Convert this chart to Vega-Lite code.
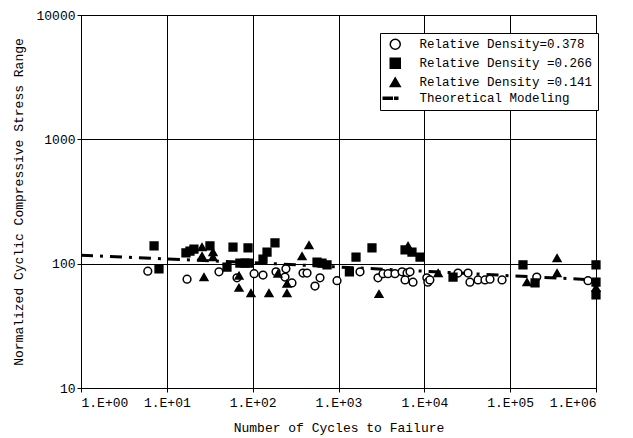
{
  "$schema": "https://vega.github.io/schema/vega-lite/v6.json",
  "width": 515,
  "height": 373,
  "autosize": {"type": "none"},
  "padding": {"left": 81, "top": 15, "right": 37, "bottom": 50},
  "background": "white",
  "config": {
    "view": {"stroke": "black", "strokeWidth": 1},
    "axis": {
      "domainColor": "black",
      "tickColor": "black",
      "gridColor": "black",
      "gridOpacity": 1,
      "gridWidth": 1,
      "labelColor": "black",
      "titleColor": "black",
      "labelFont": "Liberation Mono",
      "titleFont": "Liberation Mono",
      "labelFontSize": 13,
      "titleFontSize": 13,
      "titleFontWeight": "normal",
      "tickSize": 4
    },
    "legend": {
      "labelFont": "Liberation Mono",
      "labelFontSize": 12.5,
      "labelColor": "black",
      "labelLimit": 400
    }
  },
  "datasets": {
    "tests": [
      {"cycles": 6.0, "stress": 87, "series": "Relative Density=0.378"},
      {"cycles": 17.2, "stress": 75, "series": "Relative Density=0.378"},
      {"cycles": 40.5, "stress": 86, "series": "Relative Density=0.378"},
      {"cycles": 65.7, "stress": 77, "series": "Relative Density=0.378"},
      {"cycles": 104, "stress": 83, "series": "Relative Density=0.378"},
      {"cycles": 132, "stress": 81, "series": "Relative Density=0.378"},
      {"cycles": 187, "stress": 86, "series": "Relative Density=0.378"},
      {"cycles": 244, "stress": 91, "series": "Relative Density=0.378"},
      {"cycles": 238, "stress": 78, "series": "Relative Density=0.378"},
      {"cycles": 287, "stress": 70, "series": "Relative Density=0.378"},
      {"cycles": 386, "stress": 84, "series": "Relative Density=0.378"},
      {"cycles": 430, "stress": 84, "series": "Relative Density=0.378"},
      {"cycles": 609, "stress": 77, "series": "Relative Density=0.378"},
      {"cycles": 532, "stress": 66, "series": "Relative Density=0.378"},
      {"cycles": 961, "stress": 73, "series": "Relative Density=0.378"},
      {"cycles": 1780, "stress": 86, "series": "Relative Density=0.378"},
      {"cycles": 2885, "stress": 77, "series": "Relative Density=0.378"},
      {"cycles": 3300, "stress": 83, "series": "Relative Density=0.378"},
      {"cycles": 3775, "stress": 83, "series": "Relative Density=0.378"},
      {"cycles": 4550, "stress": 83, "series": "Relative Density=0.378"},
      {"cycles": 5500, "stress": 86, "series": "Relative Density=0.378"},
      {"cycles": 6290, "stress": 84, "series": "Relative Density=0.378"},
      {"cycles": 6810, "stress": 86, "series": "Relative Density=0.378"},
      {"cycles": 5960, "stress": 74, "series": "Relative Density=0.378"},
      {"cycles": 7380, "stress": 71, "series": "Relative Density=0.378"},
      {"cycles": 10700, "stress": 77, "series": "Relative Density=0.378"},
      {"cycles": 11000, "stress": 71, "series": "Relative Density=0.378"},
      {"cycles": 11600, "stress": 74, "series": "Relative Density=0.378"},
      {"cycles": 24700, "stress": 84, "series": "Relative Density=0.378"},
      {"cycles": 32300, "stress": 84, "series": "Relative Density=0.378"},
      {"cycles": 34000, "stress": 71, "series": "Relative Density=0.378"},
      {"cycles": 42200, "stress": 74, "series": "Relative Density=0.378"},
      {"cycles": 50900, "stress": 74, "series": "Relative Density=0.378"},
      {"cycles": 58200, "stress": 75, "series": "Relative Density=0.378"},
      {"cycles": 80400, "stress": 74, "series": "Relative Density=0.378"},
      {"cycles": 204000, "stress": 78, "series": "Relative Density=0.378"},
      {"cycles": 807000, "stress": 73, "series": "Relative Density=0.378"},

      {"cycles": 7.1, "stress": 139, "series": "Relative Density =0.266"},
      {"cycles": 8.1, "stress": 91, "series": "Relative Density =0.266"},
      {"cycles": 16.7, "stress": 122, "series": "Relative Density =0.266"},
      {"cycles": 18.6, "stress": 126, "series": "Relative Density =0.266"},
      {"cycles": 20.7, "stress": 131, "series": "Relative Density =0.266"},
      {"cycles": 31.8, "stress": 139, "series": "Relative Density =0.266"},
      {"cycles": 50.2, "stress": 94, "series": "Relative Density =0.266"},
      {"cycles": 59, "stress": 136, "series": "Relative Density =0.266"},
      {"cycles": 71, "stress": 101, "series": "Relative Density =0.266"},
      {"cycles": 81.5, "stress": 101, "series": "Relative Density =0.266"},
      {"cycles": 88.3, "stress": 134, "series": "Relative Density =0.266"},
      {"cycles": 90.7, "stress": 101, "series": "Relative Density =0.266"},
      {"cycles": 132, "stress": 109, "series": "Relative Density =0.266"},
      {"cycles": 147, "stress": 124, "series": "Relative Density =0.266"},
      {"cycles": 182, "stress": 147, "series": "Relative Density =0.266"},
      {"cycles": 562, "stress": 103, "series": "Relative Density =0.266"},
      {"cycles": 642, "stress": 101, "series": "Relative Density =0.266"},
      {"cycles": 735, "stress": 98, "series": "Relative Density =0.266"},
      {"cycles": 1340, "stress": 86, "series": "Relative Density =0.266"},
      {"cycles": 1600, "stress": 113, "series": "Relative Density =0.266"},
      {"cycles": 2455, "stress": 134, "series": "Relative Density =0.266"},
      {"cycles": 5960, "stress": 129, "series": "Relative Density =0.266"},
      {"cycles": 7180, "stress": 124, "series": "Relative Density =0.266"},
      {"cycles": 8910, "stress": 113, "series": "Relative Density =0.266"},
      {"cycles": 21600, "stress": 78, "series": "Relative Density =0.266"},
      {"cycles": 141000, "stress": 98, "series": "Relative Density =0.266"},
      {"cycles": 195000, "stress": 70, "series": "Relative Density =0.266"},
      {"cycles": 1000000, "stress": 98, "series": "Relative Density =0.266"},
      {"cycles": 1000000, "stress": 71, "series": "Relative Density =0.266"},
      {"cycles": 1000000, "stress": 56, "series": "Relative Density =0.266"},

      {"cycles": 25.7, "stress": 136, "series": "Relative Density =0.141"},
      {"cycles": 25.7, "stress": 115, "series": "Relative Density =0.141"},
      {"cycles": 27.1, "stress": 78, "series": "Relative Density =0.141"},
      {"cycles": 34.5, "stress": 124, "series": "Relative Density =0.141"},
      {"cycles": 34.5, "stress": 113, "series": "Relative Density =0.141"},
      {"cycles": 69.3, "stress": 80, "series": "Relative Density =0.141"},
      {"cycles": 69.3, "stress": 64, "series": "Relative Density =0.141"},
      {"cycles": 95.6, "stress": 58, "series": "Relative Density =0.141"},
      {"cycles": 155, "stress": 58, "series": "Relative Density =0.141"},
      {"cycles": 251, "stress": 58, "series": "Relative Density =0.141"},
      {"cycles": 251, "stress": 69, "series": "Relative Density =0.141"},
      {"cycles": 197, "stress": 83, "series": "Relative Density =0.141"},
      {"cycles": 376, "stress": 115, "series": "Relative Density =0.141"},
      {"cycles": 453, "stress": 141, "series": "Relative Density =0.141"},
      {"cycles": 2965, "stress": 57, "series": "Relative Density =0.141"},
      {"cycles": 6460, "stress": 139, "series": "Relative Density =0.141"},
      {"cycles": 14500, "stress": 84, "series": "Relative Density =0.141"},
      {"cycles": 157000, "stress": 71, "series": "Relative Density =0.141"},
      {"cycles": 352000, "stress": 111, "series": "Relative Density =0.141"},
      {"cycles": 352000, "stress": 84, "series": "Relative Density =0.141"},
      {"cycles": 1000000, "stress": 64, "series": "Relative Density =0.141"}
    ],
    "model": [
      {"cycles": 1, "stress": 117},
      {"cycles": 10, "stress": 109},
      {"cycles": 100, "stress": 102},
      {"cycles": 1000, "stress": 94},
      {"cycles": 10000, "stress": 87},
      {"cycles": 100000, "stress": 80},
      {"cycles": 1000000, "stress": 74}
    ]
  },
  "layer": [
    {
      "data": {"name": "model"},
      "mark": {"type": "line", "color": "black", "strokeWidth": 3, "strokeDash": [12, 7, 3, 7]},
      "encoding": {
        "x": {
          "field": "cycles", "type": "quantitative",
          "scale": {"type": "log", "domain": [1, 1000000], "nice": false},
          "axis": {
            "title": "Number of Cycles to Failure",
            "values": [1, 10, 100, 1000, 10000, 100000, 1000000],
            "labelExpr": "'1.E+0' + round(log(datum.value) / LN10)",
            "titlePadding": 12,
            "labelPadding": 4
          }
        },
        "y": {
          "field": "stress", "type": "quantitative",
          "scale": {"type": "log", "domain": [10, 10000], "nice": false},
          "axis": {
            "title": "Normalized Cyclic Compressive Stress Range",
            "values": [10, 100, 1000, 10000],
            "format": "d",
            "titlePadding": 10,
            "labelPadding": 2
          }
        }
      }
    },
    {
      "data": {"name": "tests"},
      "mark": {"type": "point", "stroke": "black", "strokeWidth": 1.5, "opacity": 1, "size": 60},
      "encoding": {
        "x": {"field": "cycles", "type": "quantitative"},
        "y": {"field": "stress", "type": "quantitative"},
        "shape": {
          "field": "series", "type": "nominal",
          "scale": {
            "domain": ["Relative Density=0.378", "Relative Density =0.266", "Relative Density =0.141", "Theoretical Modeling"],
            "range": ["circle", "square", "triangle-up", "M-2.4,-0.2H-0.6V0.2H-2.4Z M-0.1,-0.2H0.5V0.2H-0.1Z"]
          },
          "legend": {
            "title": null,
            "orient": "none",
            "legendX": 299,
            "legendY": 18,
            "strokeColor": "black",
            "fillColor": "white",
            "padding": 5,
            "rowPadding": 2,
            "offset": 0,
            "labelOffset": 18,
            "labelFont": "Liberation Mono",
            "labelFontSize": 12.5,
            "labelLimit": 400,
            "symbolOffset": 4,
            "encode": {
              "symbols": {
                "update": {
                  "stroke": {"value": "black"},
                  "strokeWidth": {"value": 1.5}
                }
              }
            }
          }
        },
        "fill": {
          "field": "series", "type": "nominal",
          "scale": {
            "domain": ["Relative Density=0.378", "Relative Density =0.266", "Relative Density =0.141", "Theoretical Modeling"],
            "range": ["white", "black", "black", "black"]
          },
          "legend": {
            "title": null,
            "orient": "none",
            "legendX": 299,
            "legendY": 18,
            "strokeColor": "black",
            "fillColor": "white",
            "padding": 5,
            "rowPadding": 2,
            "offset": 0,
            "labelOffset": 18,
            "labelFont": "Liberation Mono",
            "labelFontSize": 12.5,
            "labelLimit": 400,
            "symbolOffset": 4,
            "encode": {
              "symbols": {
                "update": {
                  "stroke": {"value": "black"},
                  "strokeWidth": {"value": 1.5}
                }
              }
            }
          }
        }
      }
    }
  ]
}
